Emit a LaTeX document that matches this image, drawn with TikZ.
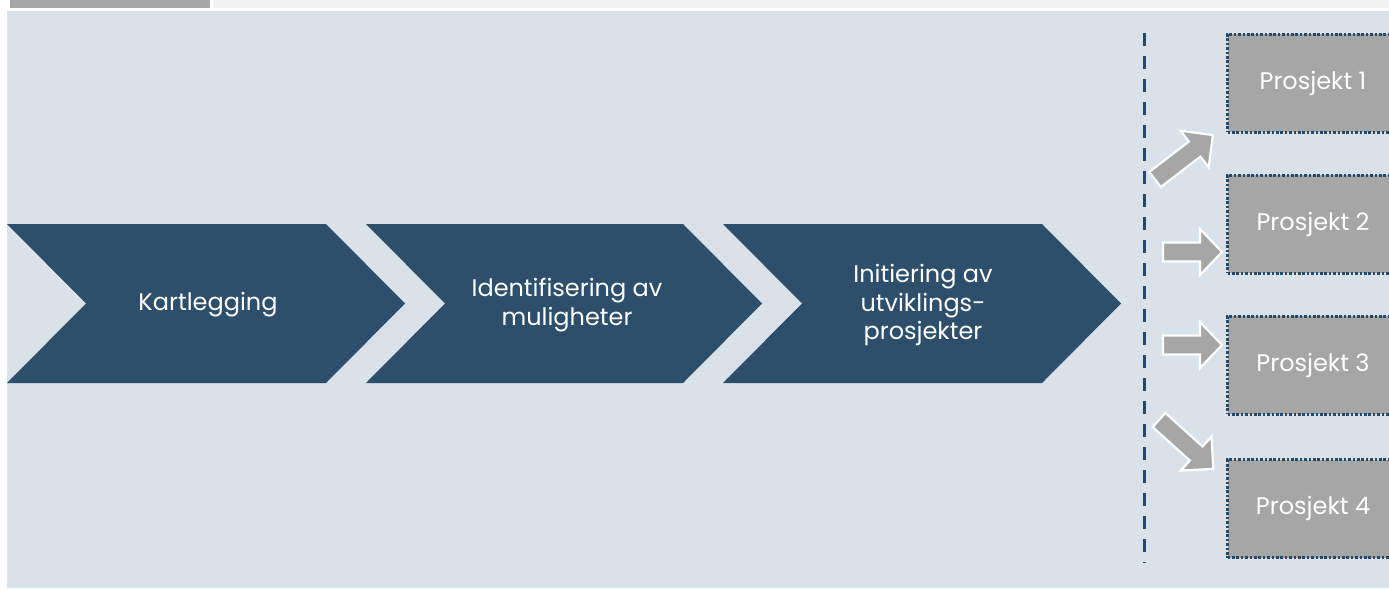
\documentclass[tikz,border=0pt]{standalone}
\usepackage{fontspec}
\setmainfont{Poppins}
\definecolor{bgblue}{HTML}{D9E1EA}
\definecolor{chev}{HTML}{2D4F6C}
\definecolor{boxgray}{HTML}{A6A6A6}
\definecolor{topgray}{HTML}{F2F2F2}
\definecolor{divblue}{HTML}{234A6B}
\begin{document}
\begin{tikzpicture}[x=1pt,y=-1pt,
  chevron/.style={fill=chev,draw=none},
  chevtext/.style={text=white,font=\fontsize{24}{28.5}\selectfont,align=center,inner sep=0pt},
  projbox/.style={fill=boxgray,draw=divblue,line width=3pt,dash pattern=on 2.6pt off 1.8pt,
    minimum width=171pt,minimum height=98pt,inner sep=0pt,text=white,
    font=\fontsize{24}{28}\selectfont},
  blockarrow/.style={fill=boxgray,draw=white,line width=2.2pt,line join=miter}
]
\useasboundingbox (0,0) rectangle (1389,589);
\fill[white] (0,0) rectangle (1389,589);
% top bars
\fill[boxgray] (10,0) rectangle (210,8);
\fill[topgray] (213,0) rectangle (1389,8);
% background
\fill[bgblue] (7,11) rectangle (1389,588);
% chevrons
\foreach \a/\b in {7/326,366/683,723/1042}{
  \fill[chevron] (\a,224) -- (\b,224) -- ({\b+79},303.5) -- (\b,383) -- (\a,383) -- ({\a+79},303.5) -- cycle;
}
\node[chevtext] (c1) at (208,305) {Kartlegging};
\node[chevtext] (c2) at (567,305) {Identifisering av\\muligheter};
\node[chevtext] (c3) at (923,305) {Initiering av\\utviklings-\\prosjekter};
% dashed divider
\coordinate (dtop) at (1144,33);
\coordinate (dbot) at (1144,563);
\draw[divblue,line width=3pt,dash pattern=on 13pt off 10pt] (dtop) -- (dbot);
% project boxes
\node[projbox] (p1) at (1313,83) {Prosjekt 1};
\node[projbox] (p2) at (1313,224) {Prosjekt 2};
\node[projbox] (p3) at (1313,365) {Prosjekt 3};
\node[projbox] (p4) at (1313,508.5) {Prosjekt 4};
% block arrows
\begin{scope}[shift={(1155,179.5)},rotate=37.5]
\draw[blockarrow] (0,-9.5) -- (50,-9.5) -- (50,-23) -- (73,0) -- (50,23) -- (50,9.5) -- (0,9.5) -- cycle;
\end{scope}
\begin{scope}[shift={(1163,252)}]
\draw[blockarrow] (0,-9.5) -- (37,-9.5) -- (37,-23) -- (59,0) -- (37,23) -- (37,9.5) -- (0,9.5) -- cycle;
\end{scope}
\begin{scope}[shift={(1163,345)}]
\draw[blockarrow] (0,-9.5) -- (37,-9.5) -- (37,-23) -- (59,0) -- (37,23) -- (37,9.5) -- (0,9.5) -- cycle;
\end{scope}
\begin{scope}[shift={(1159,420)},rotate=-42]
\draw[blockarrow] (0,-9.5) -- (50,-9.5) -- (50,-23) -- (73,0) -- (50,23) -- (50,9.5) -- (0,9.5) -- cycle;
\end{scope}
\end{tikzpicture}
\end{document}
